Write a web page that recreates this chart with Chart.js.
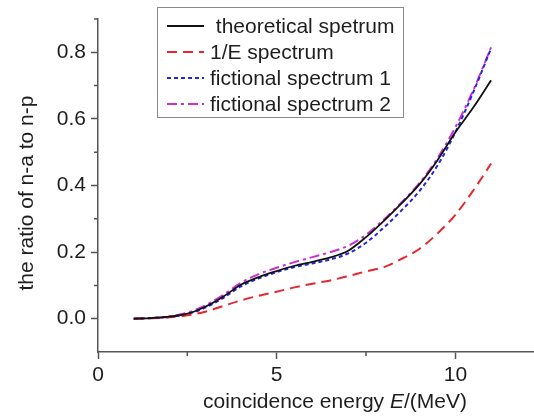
<!DOCTYPE html>
<html>
<head>
<meta charset="utf-8">
<script src="https://cdn.jsdelivr.net/npm/chart.js@4.4.0/dist/chart.umd.min.js"></script>
<style>
  html, body { margin: 0; padding: 0; background: #fff; }
  #wrap { width: 534px; height: 417px; position: relative; }
</style>
</head>
<body>
<div id="wrap"><canvas id="chart"></canvas></div>
<script>
// coincidence energy E (MeV)
const energy = [1, 1.5, 2, 2.5, 3, 3.5, 4, 4.5, 5, 5.5, 6, 6.5, 7, 7.5, 8, 8.5, 9, 9.5, 10, 10.5, 11];

// ratio of n-a to n-p
const theoretical = [0, 0.002, 0.006, 0.015, 0.036, 0.066, 0.102, 0.125, 0.143, 0.159, 0.171, 0.184, 0.204, 0.245, 0.294, 0.347, 0.404, 0.476, 0.56, 0.634, 0.716];
const inverseE    = [0, 0.001, 0.004, 0.01, 0.021, 0.038, 0.055, 0.069, 0.081, 0.094, 0.105, 0.115, 0.128, 0.142, 0.155, 0.18, 0.21, 0.256, 0.312, 0.385, 0.466];
const fictional1  = [0, 0.002, 0.006, 0.014, 0.033, 0.062, 0.097, 0.121, 0.14, 0.155, 0.166, 0.178, 0.196, 0.228, 0.274, 0.326, 0.384, 0.46, 0.56, 0.68, 0.812];
const fictional2  = [0, 0.002, 0.007, 0.018, 0.04, 0.071, 0.108, 0.134, 0.153, 0.17, 0.185, 0.2, 0.219, 0.252, 0.298, 0.35, 0.408, 0.482, 0.575, 0.686, 0.815];

const seriesLabels = [' theoretical spetrum', '1/E spectrum', 'fictional spectrum 1', 'fictional spectrum 2'];

const xTicks = [0, 5, 10];
const yTicks = [0, 0.2, 0.4, 0.6, 0.8];
const xMinorTicks = [2.5, 7.5];
const yMinorTicks = [0.1, 0.3, 0.5, 0.7, 0.9];

const FONT = '"Liberation Sans", Arial, sans-serif';
const AXIS = '#555';
const TEXT = '#1e1e1e';

const pts = ys => energy.map((x, i) => ({ x: x, y: ys[i] }));

// minor ticks, axis titles and the boxed legend
const extras = {
  id: 'extras',
  afterDraw(chart) {
    const ctx = chart.ctx;
    const xs = chart.scales.x, ys = chart.scales.y;
    const area = chart.chartArea;
    ctx.save();

    ctx.strokeStyle = AXIS;
    ctx.lineWidth = 1.5;
    ctx.beginPath();
    xMinorTicks.forEach(v => {
      const px = xs.getPixelForValue(v);
      ctx.moveTo(px, area.bottom);
      ctx.lineTo(px, area.bottom + 4);
    });
    yMinorTicks.forEach(v => {
      const py = ys.getPixelForValue(v);
      ctx.moveTo(area.left, py);
      ctx.lineTo(area.left - 4, py);
    });
    ctx.stroke();

    // x title with italic E
    ctx.fillStyle = TEXT;
    ctx.textBaseline = 'alphabetic';
    ctx.textAlign = 'left';
    const p1 = 'coincidence energy ', p2 = 'E', p3 = '/(MeV)';
    ctx.font = '21px ' + FONT;
    const w1 = ctx.measureText(p1).width, w3 = ctx.measureText(p3).width;
    ctx.font = 'italic 21px ' + FONT;
    const w2 = ctx.measureText(p2).width;
    let tx = 335 - (w1 + w2 + w3) / 2;
    ctx.font = '21px ' + FONT;
    ctx.fillText(p1, tx, 408);
    ctx.font = 'italic 21px ' + FONT;
    ctx.fillText(p2, tx + w1, 408);
    ctx.font = '21px ' + FONT;
    ctx.fillText(p3, tx + w1 + w2, 408);

    // y title
    ctx.save();
    ctx.translate(27, 193);
    ctx.rotate(-Math.PI / 2);
    ctx.textAlign = 'center';
    ctx.textBaseline = 'middle';
    ctx.fillText('the ratio of n-a to n-p', 0, 0);
    ctx.restore();

    // legend
    ctx.strokeStyle = '#8a8a8a';
    ctx.lineWidth = 1;
    ctx.setLineDash([]);
    ctx.strokeRect(157.5, 7.5, 246, 110);
    ctx.textAlign = 'left';
    ctx.textBaseline = 'middle';
    chart.data.datasets.forEach((ds, i) => {
      const y = 26 + i * 26;
      ctx.strokeStyle = ds.borderColor;
      ctx.lineWidth = ds.borderWidth;
      ctx.setLineDash(ds.borderDash || []);
      ctx.beginPath();
      ctx.moveTo(167, y);
      ctx.lineTo(204, y);
      ctx.stroke();
      ctx.setLineDash([]);
      ctx.fillStyle = TEXT;
      ctx.font = '21px ' + FONT;
      ctx.fillText(ds.label, 210, y + 1);
    });

    ctx.restore();
  }
};

new Chart(document.getElementById('chart').getContext('2d'), {
  type: 'line',
  data: {
    datasets: [
      { label: seriesLabels[0], data: pts(theoretical), borderColor: '#111', borderWidth: 1.8 },
      { label: seriesLabels[1], data: pts(inverseE), borderColor: '#e8262e', borderWidth: 2, borderDash: [10, 6] },
      { label: seriesLabels[2], data: pts(fictional1), borderColor: '#2626d6', borderWidth: 2, borderDash: [4, 3] },
      { label: seriesLabels[3], data: pts(fictional2), borderColor: '#cc2ed0', borderWidth: 2, borderDash: [10, 4, 3, 4] }
    ]
  },
  options: {
    responsive: true,
    maintainAspectRatio: false,
    animation: false,
    cubicInterpolationMode: 'monotone',
    elements: { point: { radius: 0 }, line: { cubicInterpolationMode: 'monotone' } },
    layout: { padding: { top: 19, right: 0, left: 0, bottom: 0 } },
    plugins: { legend: { display: false }, tooltip: { enabled: false } },
    scales: {
      x: {
        type: 'linear',
        min: 0,
        max: 12.2,
        afterBuildTicks: s => { s.ticks = xTicks.map(v => ({ value: v })); },
        afterFit: s => { s.height = 65; },
        grid: { display: true, drawOnChartArea: false, tickLength: 7, tickColor: AXIS, tickWidth: 1.5 },
        border: { color: AXIS, width: 1.5 },
        ticks: { color: TEXT, font: { family: FONT, size: 21 }, padding: 4, maxRotation: 0 }
      },
      y: {
        min: -0.1,
        max: 0.9,
        afterBuildTicks: s => { s.ticks = yTicks.map(v => ({ value: v })); },
        afterFit: s => { s.width = 98; },
        grid: { display: true, drawOnChartArea: false, tickLength: 7, tickColor: AXIS, tickWidth: 1.5 },
        border: { color: AXIS, width: 1.5 },
        ticks: { color: TEXT, font: { family: FONT, size: 21 }, padding: 5, callback: v => v.toFixed(1) }
      }
    }
  },
  plugins: [extras]
});
</script>
</body>
</html>
